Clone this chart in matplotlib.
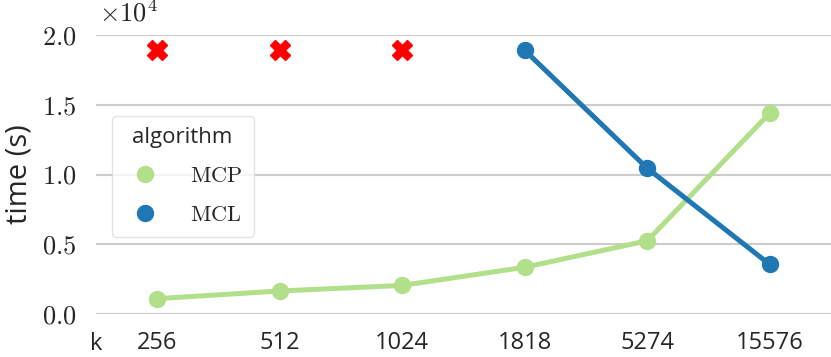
import matplotlib
matplotlib.use("Agg")
import matplotlib.pyplot as plt
import seaborn as sns
import pandas as pd
from matplotlib.lines import Line2D
from matplotlib.ticker import FuncFormatter

# k values (categorical x axis)
k_values = ["256", "512", "1024", "1818", "5274", "15576"]

# runtimes in seconds
mcp_times = [1100, 1650, 2050, 3350, 5250, 14400]
mcl_k = ["1818", "5274", "15576"]
mcl_times = [18900, 10450, 3550]

# runs that did not finish (timeout marker)
timeout_k = ["256", "512", "1024"]
timeout_level = 18900

sns.set_theme(style="whitegrid")
plt.rcParams["font.family"] = ["Open Sans", "DejaVu Sans"]
plt.rcParams["mathtext.fontset"] = "cm"

df = pd.DataFrame({
    "k": k_values + mcl_k,
    "time": mcp_times + mcl_times,
    "algorithm": ["MCP"] * len(mcp_times) + ["MCL"] * len(mcl_times),
})
palette = {"MCP": "#b2df8a", "MCL": "#1f78b4"}

fig = plt.figure(figsize=(8.31, 3.57), dpi=100)
ax = fig.add_axes([96 / 831, 1 - 314 / 357, 735 / 831, 279 / 357])

xpos = {k: i for i, k in enumerate(k_values)}
for alg in ["MCP", "MCL"]:
    sub = df[df["algorithm"] == alg]
    ax.plot([xpos[k] for k in sub["k"]], sub["time"], color=palette[alg],
            lw=3.6, marker="o", ms=11.5, clip_on=False, zorder=3)

ax.plot([xpos[k] for k in timeout_k], [timeout_level] * len(timeout_k),
        ls="none", marker="X", ms=15, color="red", clip_on=False, zorder=3)

ax.set_xlim(-0.5, len(k_values) - 0.5)
ax.set_ylim(0, 20000)
ax.set_xticks(range(len(k_values)))
ax.set_xticklabels(k_values)
ax.set_yticks([0, 5000, 10000, 15000, 20000])
ax.yaxis.set_major_formatter(FuncFormatter(lambda v, p: f"${v / 1e4:.1f}$"))
ax.grid(axis="x", visible=False)
ax.grid(axis="y", color="#cccccc", lw=1.5)
for s in ax.spines.values():
    s.set_visible(False)

ax.text(0.004, 1.028, r"$\times 10^{4}$", transform=ax.transAxes,
        fontsize=19, ha="left", va="bottom", color="#262626")

ax.tick_params(axis="x", labelsize=17, length=0, pad=12.5)
ax.tick_params(axis="y", labelsize=19, length=0, pad=14)

ax.set_ylabel("time (s)", fontsize=21, labelpad=6)
ax.set_xlabel("k", fontsize=17)
ax.xaxis.set_label_coords(0.0, -0.065)

handles = [Line2D([], [], ls="none", marker="o", ms=11.5, color=palette[a]) for a in ["MCP", "MCL"]]
leg = ax.legend(handles, [r"$\mathrm{MCP}$", r"$\mathrm{MCL}$"], title="algorithm",
                loc="upper left", bbox_to_anchor=(0.006, 0.75), fontsize=16,
                title_fontsize=16, frameon=True, handletextpad=1.05, borderpad=0.5,
                labelspacing=0.8)
leg.get_frame().set_edgecolor("#dddddd")

fig.savefig("out.png", dpi=100)
